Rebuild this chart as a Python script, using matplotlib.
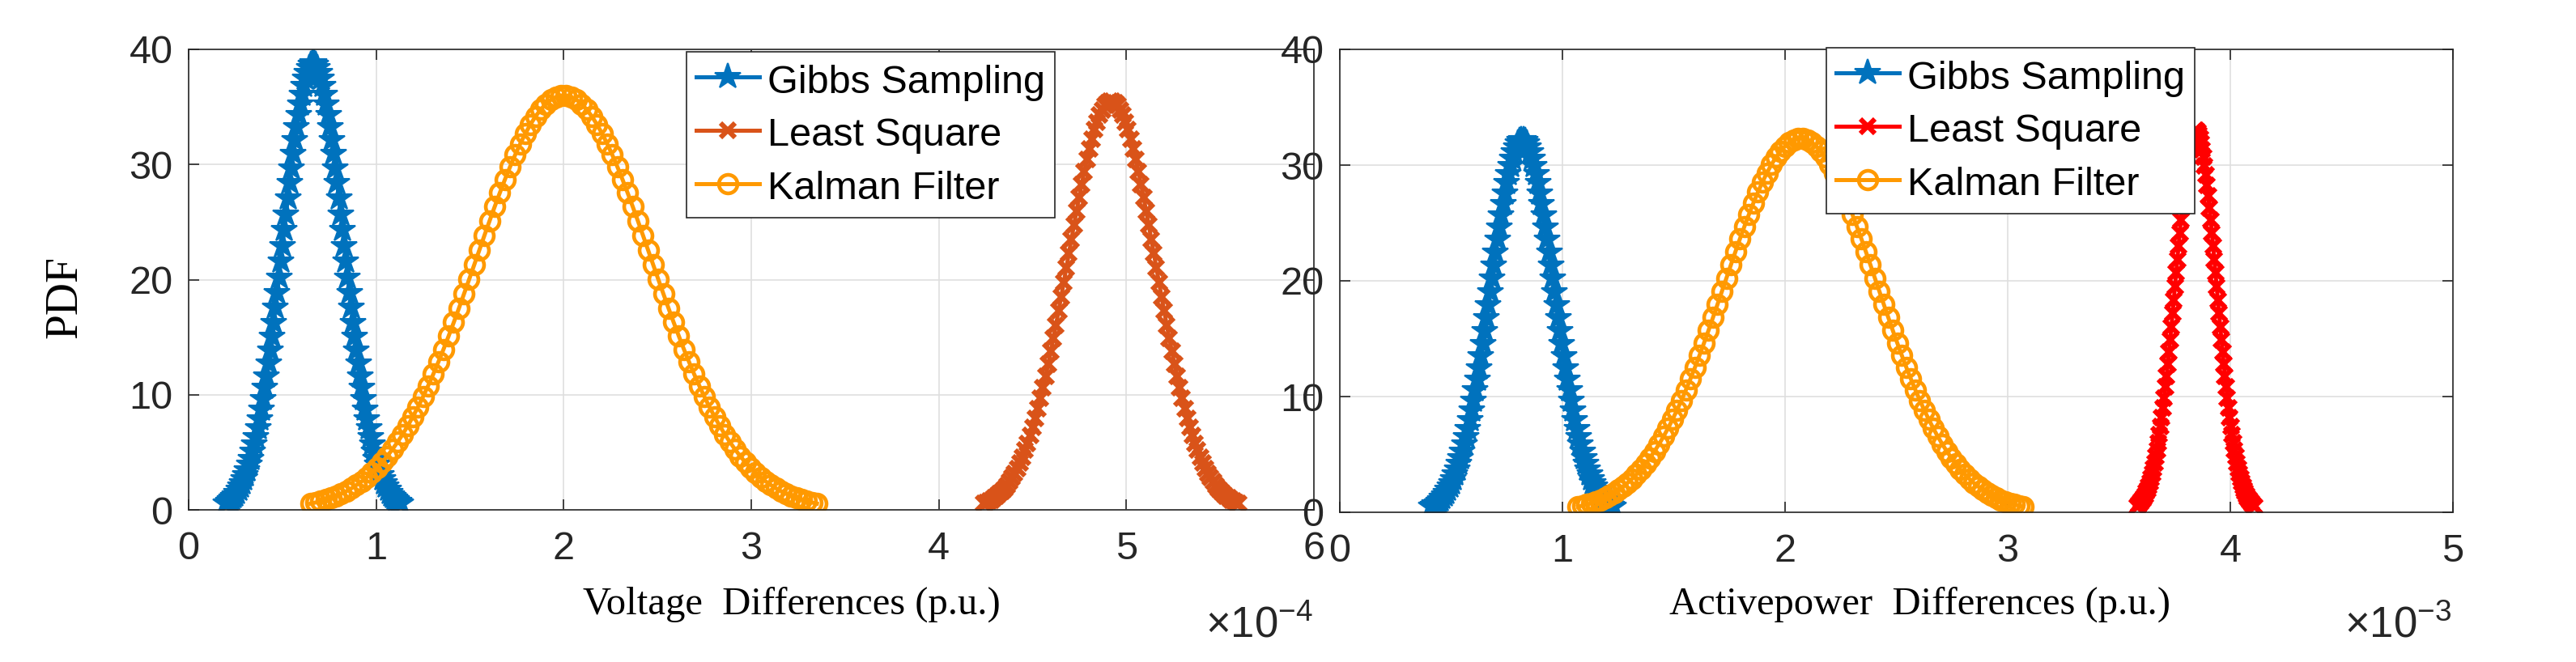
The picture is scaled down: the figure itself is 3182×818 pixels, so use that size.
import numpy as np
import matplotlib
matplotlib.use("Agg")
import matplotlib.pyplot as plt
from matplotlib.ticker import FuncFormatter

# ---------------- data ----------------
legend_labels = ["Gibbs Sampling", "Least Square", "Kalman Filter"]

# Left panel: voltage differences (p.u.), x range of each curve (start, stop)
gibbs_v_range = (0.20e-4, 1.13e-4)
ls_v_range = (4.24e-4, 5.60e-4)
kalman_v_range = (0.65e-4, 3.35e-4)

gibbs_v_pdf = [0.58, 0.69, 0.81, 0.95, 1.11, 1.30, 1.51, 1.75, 2.02, 2.32, 2.67, 3.05, 3.47, 3.94, 4.46,
               5.03, 5.66, 6.33, 7.07, 7.86, 8.71, 9.63, 10.60, 11.63, 12.71, 13.85, 15.04, 16.27, 17.55,
               18.86, 20.20, 21.57, 22.94, 24.32, 25.69, 27.05, 28.38, 29.67, 30.92, 32.11, 33.23, 34.28,
               35.23, 36.09, 36.84, 37.47, 37.99, 38.39, 38.65, 38.78,
               38.78, 38.65, 38.39, 37.99, 37.47, 36.84, 36.09, 35.23, 34.28, 33.23, 32.11, 30.92, 29.67,
               28.38, 27.05, 25.69, 24.32, 22.94, 21.57, 20.20, 18.86, 17.55, 16.27, 15.04, 13.85, 12.71,
               11.63, 10.60, 9.63, 8.71, 7.86, 7.07, 6.33, 5.66, 5.03, 4.46, 3.94, 3.47, 3.05, 2.67, 2.32,
               2.02, 1.75, 1.51, 1.30, 1.11, 0.95, 0.81, 0.69, 0.58]

ls_v_pdf = [0.53, 0.63, 0.74, 0.87, 1.02, 1.19, 1.38, 1.60, 1.85, 2.13, 2.44, 2.79, 3.18, 3.61, 4.08,
            4.60, 5.17, 5.79, 6.47, 7.19, 7.97, 8.81, 9.70, 10.64, 11.63, 12.67, 13.76, 14.89, 16.06,
            17.26, 18.49, 19.73, 20.99, 22.25, 23.51, 24.75, 25.97, 27.15, 28.29, 29.38, 30.41, 31.36,
            32.23, 33.02, 33.70, 34.29, 34.76, 35.12, 35.36, 35.48,
            35.48, 35.36, 35.12, 34.76, 34.29, 33.70, 33.02, 32.23, 31.36, 30.41, 29.38, 28.29, 27.15,
            25.97, 24.75, 23.51, 22.25, 20.99, 19.73, 18.49, 17.26, 16.06, 14.89, 13.76, 12.67, 11.63,
            10.64, 9.70, 8.81, 7.97, 7.19, 6.47, 5.79, 5.17, 4.60, 4.08, 3.61, 3.18, 2.79, 2.44, 2.13,
            1.85, 1.60, 1.38, 1.19, 1.02, 0.87, 0.74, 0.63, 0.53]

kalman_v_pdf = [0.54, 0.64, 0.75, 0.88, 1.03, 1.20, 1.40, 1.62, 1.87, 2.16, 2.47, 2.83, 3.22, 3.66, 4.14,
                4.67, 5.25, 5.88, 6.56, 7.29, 8.09, 8.93, 9.83, 10.79, 11.79, 12.85, 13.95, 15.10, 16.28,
                17.50, 18.75, 20.01, 21.28, 22.56, 23.84, 25.10, 26.33, 27.53, 28.69, 29.79, 30.83, 31.80,
                32.69, 33.48, 34.18, 34.77, 35.25, 35.62, 35.86, 35.98,
                35.98, 35.86, 35.62, 35.25, 34.77, 34.18, 33.48, 32.69, 31.80, 30.83, 29.79, 28.69, 27.53,
                26.33, 25.10, 23.84, 22.56, 21.28, 20.01, 18.75, 17.50, 16.28, 15.10, 13.95, 12.85, 11.79,
                10.79, 9.83, 8.93, 8.09, 7.29, 6.56, 5.88, 5.25, 4.67, 4.14, 3.66, 3.22, 2.83, 2.47, 2.16,
                1.87, 1.62, 1.40, 1.20, 1.03, 0.88, 0.75, 0.64, 0.54]

# Right panel: active power differences (p.u.)
gibbs_p_range = (0.41e-3, 1.23e-3)
ls_p_range = (3.58e-3, 4.11e-3)
kalman_p_range = (1.07e-3, 3.07e-3)

gibbs_p_pdf = [0.48, 0.57, 0.67, 0.79, 0.92, 1.08, 1.25, 1.45, 1.68, 1.93, 2.21, 2.53, 2.88, 3.27, 3.70,
               4.18, 4.69, 5.26, 5.87, 6.52, 7.23, 7.99, 8.79, 9.65, 10.55, 11.49, 12.48, 13.51, 14.57,
               15.65, 16.77, 17.90, 19.04, 20.18, 21.32, 22.45, 23.55, 24.63, 25.66, 26.65, 27.58, 28.45,
               29.24, 29.95, 30.57, 31.10, 31.53, 31.86, 32.08, 32.19,
               32.19, 32.08, 31.86, 31.53, 31.10, 30.57, 29.95, 29.24, 28.45, 27.58, 26.65, 25.66, 24.63,
               23.55, 22.45, 21.32, 20.18, 19.04, 17.90, 16.77, 15.65, 14.57, 13.51, 12.48, 11.49, 10.55,
               9.65, 8.79, 7.99, 7.23, 6.52, 5.87, 5.26, 4.69, 4.18, 3.70, 3.27, 2.88, 2.53, 2.21, 1.93,
               1.68, 1.45, 1.25, 1.08, 0.92, 0.79, 0.67, 0.57, 0.48]

ls_p_pdf = [0.49, 0.58, 0.69, 0.81, 0.95, 1.10, 1.28, 1.49, 1.72, 1.98, 2.27, 2.59, 2.95, 3.35, 3.80,
            4.28, 4.81, 5.39, 6.01, 6.69, 7.41, 8.19, 9.01, 9.89, 10.81, 11.78, 12.79, 13.84, 14.93,
            16.04, 17.18, 18.34, 19.51, 20.68, 21.85, 23.00, 24.14, 25.24, 26.30, 27.31, 28.27, 29.15,
            29.96, 30.69, 31.33, 31.87, 32.31, 32.65, 32.87, 32.99,
            32.99, 32.87, 32.65, 32.31, 31.87, 31.33, 30.69, 29.96, 29.15, 28.27, 27.31, 26.30, 25.24,
            24.14, 23.00, 21.85, 20.68, 19.51, 18.34, 17.18, 16.04, 14.93, 13.84, 12.79, 11.78, 10.81,
            9.89, 9.01, 8.19, 7.41, 6.69, 6.01, 5.39, 4.81, 4.28, 3.80, 3.35, 2.95, 2.59, 2.27, 1.98,
            1.72, 1.49, 1.28, 1.10, 0.95, 0.81, 0.69, 0.58, 0.49]

kalman_p_pdf = [0.48, 0.57, 0.67, 0.79, 0.93, 1.08, 1.26, 1.46, 1.68, 1.94, 2.22, 2.54, 2.89, 3.28, 3.71,
                4.19, 4.71, 5.27, 5.88, 6.54, 7.25, 8.01, 8.82, 9.68, 10.58, 11.53, 12.52, 13.55, 14.61,
                15.70, 16.82, 17.95, 19.10, 20.24, 21.39, 22.52, 23.63, 24.70, 25.74, 26.73, 27.67, 28.53,
                29.33, 30.04, 30.67, 31.20, 31.63, 31.96, 32.18, 32.29,
                32.29, 32.18, 31.96, 31.63, 31.20, 30.67, 30.04, 29.33, 28.53, 27.67, 26.73, 25.74, 24.70,
                23.63, 22.52, 21.39, 20.24, 19.10, 17.95, 16.82, 15.70, 14.61, 13.55, 12.52, 11.53, 10.58,
                9.68, 8.82, 8.01, 7.25, 6.54, 5.88, 5.27, 4.71, 4.19, 3.71, 3.28, 2.89, 2.54, 2.22, 1.94,
                1.68, 1.46, 1.26, 1.08, 0.93, 0.79, 0.67, 0.57, 0.48]

left_xticks = [0, 1, 2, 3, 4, 5, 6]      # x 1e-4
right_xticks = [0, 1, 2, 3, 4, 5]        # x 1e-3
yticks = [0, 10, 20, 30, 40]

# ---------------- style ----------------
plt.rcParams['font.family'] = ['Liberation Sans', 'DejaVu Sans']
plt.rcParams['mathtext.default'] = 'regular'

C_BLUE = '#0072BD'
C_ORANGE_RED = '#D95319'
C_RED = '#FF0000'
C_ORANGE = '#FF9900'
C_AX = '#262626'
C_GRID = '#DFDFDF'
SERIF = ['Liberation Serif', 'DejaVu Serif']

W, H = 3182, 818
fig = plt.figure(figsize=(W / 100, H / 100), dpi=100)


def px_axes(l, t, r, b):
    return [l / W, 1 - b / H, (r - l) / W, (b - t) / H]


ax1 = fig.add_axes(px_axes(233, 61, 1623, 630))
ax2 = fig.add_axes(px_axes(1655, 61, 3030, 633))


def draw(ax, ranges, pdfs, ls_color):
    g_rng, l_rng, k_rng = ranges
    g_pdf, l_pdf, k_pdf = pdfs
    ax.plot(np.linspace(g_rng[0], g_rng[1], len(g_pdf)), g_pdf, color=C_BLUE, lw=3.6,
            marker='*', ms=24, mec=C_BLUE, mfc=C_BLUE, mew=1.5, label=legend_labels[0])
    ax.plot(np.linspace(l_rng[0], l_rng[1], len(l_pdf)), l_pdf, color=ls_color, lw=3.6,
            marker='x', ms=12.5, mew=4.4, label=legend_labels[1])
    ax.plot(np.linspace(k_rng[0], k_rng[1], len(k_pdf)), k_pdf, color=C_ORANGE, lw=3.6,
            marker='o', ms=16.5, mfc='none', mec=C_ORANGE, mew=3.3, label=legend_labels[2])


draw(ax1, (gibbs_v_range, ls_v_range, kalman_v_range),
     (gibbs_v_pdf, ls_v_pdf, kalman_v_pdf), C_ORANGE_RED)
draw(ax2, (gibbs_p_range, ls_p_range, kalman_p_range),
     (gibbs_p_pdf, ls_p_pdf, kalman_p_pdf), C_RED)


def style(ax, xticks, scale):
    ax.set_xlim(xticks[0] * scale, xticks[-1] * scale)
    ax.set_ylim(0, 40)
    ax.set_xticks([t * scale for t in xticks])
    ax.set_yticks(yticks)
    ax.xaxis.set_major_formatter(FuncFormatter(lambda v, p: f"{v / scale:.0f}"))
    ax.grid(True, color=C_GRID, lw=1.2)
    ax.set_axisbelow(True)
    for s in ax.spines.values():
        s.set_color(C_AX)
        s.set_linewidth(1.2)
    ax.tick_params(axis='both', direction='in', length=9.5, width=1.2, top=True, right=True,
                   labelsize=35, color=C_AX, labelcolor=C_AX)
    ax.tick_params(axis='x', pad=19)
    ax.tick_params(axis='y', pad=14)


style(ax1, left_xticks, 1e-4)
style(ax2, right_xticks, 1e-3)

# exponent labels (MATLAB style, below the right end of each x axis)
fig.text(1622 / W, 1 - 787 / H, '×10$^{-4}$', ha='right', va='baseline', fontsize=38, color=C_AX)
fig.text(3028 / W, 1 - 787 / H, '×10$^{-3}$', ha='right', va='baseline', fontsize=38, color=C_AX)

ax1.set_ylabel('PDF', family=SERIF, fontsize=40, color='black', va='center')
ax1.yaxis.set_label_coords(80 / W, 1 - 367 / H, transform=fig.transFigure)
ax1.set_xlabel('Voltage  Differences (p.u.)', family=SERIF, fontsize=35, color='black',
               va='center')
ax1.xaxis.set_label_coords(978 / W, 1 - 747 / H, transform=fig.transFigure)
ax2.set_xlabel('Activepower  Differences (p.u.)', family=SERIF, fontsize=35, color='black',
               va='center')
ax2.xaxis.set_label_coords(2372 / W, 1 - 747 / H, transform=fig.transFigure)


def leg(ax, x_px, y_px):
    lg = ax.legend(loc='upper left', bbox_to_anchor=(x_px / W, 1 - y_px / H),
                   bbox_transform=fig.transFigure, fontsize=35, frameon=True, fancybox=False,
                   edgecolor=C_AX, framealpha=1, borderpad=0.25, labelspacing=0.36,
                   handlelength=1.6, handleheight=1.0, handletextpad=0.2, borderaxespad=0,
                   numpoints=1)
    lg.get_frame().set_linewidth(1.2)
    for t in lg.get_texts():
        t.set_color('black')
    return lg


leg(ax1, 848, 64)
leg(ax2, 2256, 59)

fig.savefig('out.png', dpi=100)
